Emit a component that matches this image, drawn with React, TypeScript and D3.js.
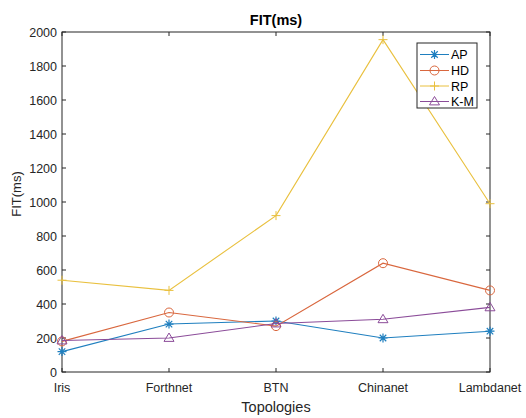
import React from "react";
import * as d3 from "d3";

const topologies = ["Iris", "Forthnet", "BTN", "Chinanet", "Lambdanet"];
const apValues = [120, 282, 300, 200, 240];
const hdValues = [180, 350, 270, 640, 480];
const rpValues = [540, 480, 920, 1955, 990];
const kmValues = [185, 200, 285, 310, 380];
const yTicks = [0, 200, 400, 600, 800, 1000, 1200, 1400, 1600, 1800, 2000];

type Marker = "star" | "circle" | "plus" | "triangle";
const series: { name: string; values: number[]; color: string; marker: Marker }[] = [
  { name: "AP", values: apValues, color: "#1f7fbf", marker: "star" },
  { name: "HD", values: hdValues, color: "#d9673e", marker: "circle" },
  { name: "RP", values: rpValues, color: "#e9c03e", marker: "plus" },
  { name: "K-M", values: kmValues, color: "#8b4c99", marker: "triangle" },
];

const W = 526;
const H = 418;
const left = 62;
const right = 490;
const top = 32;
const bottom = 372;
const font = "'Liberation Sans', Arial, Helvetica, sans-serif";
const axisColor = "#262626";

const x = d3.scalePoint<string>().domain(topologies).range([left, right]);
const y = d3.scaleLinear().domain([0, 2000]).range([bottom, top]);

function MarkerShape({ kind, cx, cy, color }: { kind: Marker; cx: number; cy: number; color: string }) {
  const s = 4.5;
  if (kind === "circle") {
    return <circle cx={cx} cy={cy} r={s} fill="none" stroke={color} strokeWidth={1} />;
  }
  if (kind === "plus") {
    return (
      <path d={`M${cx - s},${cy}H${cx + s}M${cx},${cy - s}V${cy + s}`} stroke={color} strokeWidth={1} fill="none" />
    );
  }
  if (kind === "triangle") {
    return (
      <path
        d={`M${cx},${cy - s - 0.5}L${cx + s + 0.5},${cy + s * 0.75}L${cx - s - 0.5},${cy + s * 0.75}Z`}
        stroke={color}
        strokeWidth={1}
        fill="none"
      />
    );
  }
  const d = s * 0.72;
  return (
    <path
      d={`M${cx - s},${cy}H${cx + s}M${cx},${cy - s}V${cy + s}M${cx - d},${cy - d}L${cx + d},${cy + d}M${cx - d},${cy + d}L${cx + d},${cy - d}`}
      stroke={color}
      strokeWidth={1.2}
      fill="none"
    />
  );
}

export default function App() {
  const line = d3
    .line<number>()
    .x((_, i) => x(topologies[i]) as number)
    .y((v) => y(v));

  const legendX = 417;
  const legendY = 43;
  const legendW = 60;
  const legendH = 65;
  const rowY = [54.5, 70.5, 86, 101.5];

  return (
    <svg width={W} height={H} style={{ position: "absolute", left: 0, top: 0, background: "#fff" }}>
      <rect x={0} y={0} width={W} height={H} fill="#fff" />
      {/* plot frame */}
      <rect x={left} y={top} width={right - left} height={bottom - top} fill="#fff" stroke={axisColor} strokeWidth={1} />

      {/* y ticks on both sides */}
      {yTicks.map((t) => (
        <g key={t}>
          <line x1={left} x2={left + 4} y1={y(t)} y2={y(t)} stroke={axisColor} />
          <line x1={right - 4} x2={right} y1={y(t)} y2={y(t)} stroke={axisColor} />
          <text
            x={left - 5}
            y={y(t)}
            dy="0.36em"
            textAnchor="end"
            fontFamily={font}
            fontSize={12.5}
            fill={axisColor}
          >
            {t}
          </text>
        </g>
      ))}

      {/* x ticks on both sides */}
      {topologies.map((c) => (
        <g key={c}>
          <line x1={x(c)} x2={x(c)} y1={bottom} y2={bottom - 4} stroke={axisColor} />
          <line x1={x(c)} x2={x(c)} y1={top} y2={top + 4} stroke={axisColor} />
          <text x={x(c)} y={391.5} textAnchor="middle" fontFamily={font} fontSize={12.5} fill={axisColor}>
            {c}
          </text>
        </g>
      ))}

      {/* series lines and markers */}
      {series.map((s) => (
        <g key={s.name}>
          <path d={line(s.values) ?? ""} fill="none" stroke={s.color} strokeWidth={1.1} />
          {s.values.map((v, i) => (
            <MarkerShape key={i} kind={s.marker} cx={x(topologies[i]) as number} cy={y(v)} color={s.color} />
          ))}
        </g>
      ))}

      {/* titles */}
      <text x={276} y={25} textAnchor="middle" fontFamily={font} fontSize={14.5} fontWeight="bold" fill="#000">
        FIT(ms)
      </text>
      <text
        transform={`translate(21,194) rotate(-90)`}
        textAnchor="middle"
        fontFamily={font}
        fontSize={13}
        fill={axisColor}
      >
        FIT(ms)
      </text>
      <text x={276} y={412} textAnchor="middle" fontFamily={font} fontSize={14.5} fill={axisColor}>
        Topologies
      </text>

      {/* legend */}
      <rect x={legendX} y={legendY} width={legendW} height={legendH} fill="#fff" stroke={axisColor} strokeWidth={1} />
      {series.map((s, i) => (
        <g key={s.name}>
          <line x1={420} x2={449} y1={rowY[i]} y2={rowY[i]} stroke={s.color} strokeWidth={1} />
          <MarkerShape kind={s.marker} cx={434.5} cy={rowY[i]} color={s.color} />
          <text x={451} y={rowY[i]} dy="0.36em" fontFamily={font} fontSize={12.5} fill="#000">
            {s.name}
          </text>
        </g>
      ))}
    </svg>
  );
}
